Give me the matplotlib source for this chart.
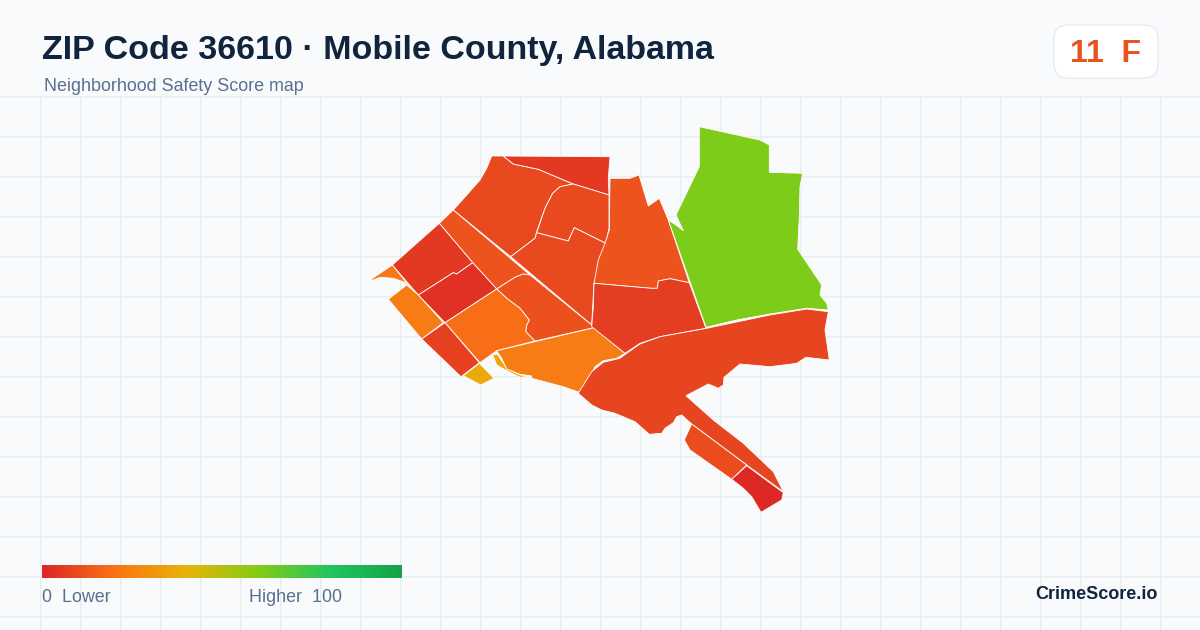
import matplotlib
matplotlib.use("Agg")
import matplotlib.pyplot as plt
from matplotlib.colors import LinearSegmentedColormap
from matplotlib.patches import FancyBboxPatch, Polygon
import numpy as np

plt.rcParams['font.family'] = ['Liberation Sans', 'DejaVu Sans']

TITLE = "ZIP Code 36610 · Mobile County, Alabama"
SUBTITLE = "Neighborhood Safety Score map"
BADGE = "11  F"
BRAND = "CrimeScore.io"
LEGEND_LOW = "0  Lower"
LEGEND_HIGH = "Higher  100"

# colour scale
scale_stops = [0.0, 0.2, 0.4, 0.6, 0.8, 1.0]
scale_colors = ["#dc2626", "#f97316", "#eab308", "#84cc16", "#22c55e", "#16a34a"]

# tract outlines (map position in picture coordinates) and their scores
north_ridge = [(491.7,156),(503.3,156),(513.3,164),(538.3,169.3),(573.3,184),(560,186.7),(552.7,193.3),(545,208.3),(536.7,231.7),(535,238.3),(510.7,256.7),(453.3,210),(468.3,193.3),(480,180),(486.7,168.3)]
diagonal_strip = [(439.3,223.3),(453.3,210),(530,275),(523.3,274),(515,277.3),(496.7,289),(472.7,262.7)]
top_band = [(503.3,156),(610,156.7),(608.3,178.3),(609,195),(573.3,184),(538.3,169.3),(513.3,164)]
upper_mid = [(573.3,184),(609,195),(609,228.3),(605.7,243.3),(574.3,227.7),(568.3,241),(536.7,232.7),(545,208.3),(552.7,193.3),(560,186.7)]
center = [(536.7,232.7),(568.3,241),(574.3,227.7),(605.7,243.3),(600,263.3),(594,283.3),(591.7,325),(510.7,256.7),(535,238.3)]
center_south = [(496.7,289),(515,277.3),(523.3,274),(530,275),(591.7,325),(594,327.7),(535,341),(525.7,331.7),(526.7,325),(529.3,320),(520,308.3),(506.7,298.3)]
west_upper = [(392.3,265),(439.3,223.3),(472.7,262.7),(456.7,274),(453.3,272.7),(436.7,283.3),(418.3,295)]
west_core = [(418.3,295),(436.7,283.3),(453.3,272.7),(456.7,274),(472.7,262.7),(496.7,289),(445,322.7)]
southwest_mid = [(445,322.7),(496.7,289),(506.7,298.3),(520,308.3),(529.3,320),(526.7,325),(525.7,331.7),(535,341),(496.7,350.7),(480,362.7)]
west_orange = [(388.3,299.3),(406.7,285),(418.3,295),(443.3,322.7),(421.7,339)]
west_lower = [(421.7,339),(445,322.7),(479.3,362.7),(461,376.7)]
west_spur = [(370,280),(392.3,265),(408.3,285),(403.3,281.7),(393.3,278.3),(380,277.3),(373.3,280)]
gold_south = [(463.3,375.7),(479.3,363.3),(494,378.3),(480.7,385)]
gold_sliver = [(492.7,355),(497.3,354),(506.7,368.3),(520,375),(531.7,376),(520,377.3),(506.7,370.7),(496.7,365)]
south_orange = [(496.7,350.7),(594,327.7),(625,353.3),(616.7,358.3),(603.3,360.7),(595,366.7),(588.3,380),(579.3,392.3),(563.3,386.7),(531.7,378.3),(531.7,376),(520,374.3),(506.7,369),(501.7,358.3)]
north_east_mid = [(610,178.3),(630,178.3),(639,175),(648.3,206),(659.3,198.3),(668.3,220),(689.3,282.7),(670,278.7),(658.3,281),(657.3,288.3),(651,288.3),(594,283.3),(598.3,260),(605,243.3),(609.3,230)]
east_mid = [(594,283.3),(651,288.3),(657.3,288.3),(658.3,281),(670,278.7),(689.3,282.7),(706,328.3),(660,336.7),(640,343.3),(625,353.3),(591.7,326.7),(593.3,306.7)]
green_east = [(699.3,126.7),(760,140),(769.3,145),(769.3,172.3),(802.7,173.3),(800,186.7),(799.3,216.7),(797.7,249.3),(821.7,285),(820,295),(826.7,303.3),(828.3,310),(806.7,308.3),(770,314),(736.7,320),(706,327.3),(668.3,220),(676,225),(683.3,230.7),(676,215),(699.3,166.7)]
waterfront = [(828.3,311.7),(825,330),(829.3,360),(806,357.3),(796.7,363.3),(770,366.7),(740,364),(724,377.3),(723.3,385),(718.3,388.3),(708.3,384),(686,395.7),(713.3,420),(743.3,443.3),(773.3,471.7),(781.7,488.3),(783.3,491.7),(746.7,465),(691.7,424),(681.7,415),(676.7,416.7),(673.3,422.7),(665,428.3),(661.7,433.3),(649.3,434.3),(635,421.7),(615,413.3),(601.7,410),(591.7,405),(578.3,393.3),(591.7,371.7),(603.3,362.3),(620,358.3),(626.7,353.3),(640,344),(660,336.7),(706.7,328.3),(770,315),(806.7,309)]
spit_mid = [(691.7,424),(746.7,465),(731.7,479.3),(690,450),(684.3,440)]
spit_tip = [(746.7,465.7),(783.3,492.7),(781.7,500),(761,512.3),(751.7,496.7),(743.3,488.3),(731.7,479.3)]

tract_shapes = [north_ridge, diagonal_strip, top_band, upper_mid, center, center_south,
                west_upper, west_core, southwest_mid, west_orange, west_lower, west_spur,
                gold_south, gold_sliver, south_orange, north_east_mid, east_mid, green_east,
                waterfront, spit_mid, spit_tip]
tract_scores = [9, 12, 5, 9, 9, 11,
                5, 3, 19, 23, 7, 21,
                37, 36, 23, 12, 6, 61,
                8, 10, 1]

W, H = 1200, 630
BG = "#f8fafc"
GRID = "#e6eef2"

fig = plt.figure(figsize=(12, 6.3), dpi=100, facecolor=BG)
ax = fig.add_axes([0, 0, 1, 1])
ax.set_xlim(0, W)
ax.set_ylim(H, 0)
ax.axis("off")

for gx in np.arange(40, W, 40):
    ax.plot([gx + 0.7, gx + 0.7], [96.7, H], color=GRID, lw=0.95, zorder=1,
            solid_capstyle="butt", snap=False)
for gy in np.arange(97, H, 40):
    ax.plot([0, W], [gy - 0.3, gy - 0.3], color=GRID, lw=0.95, zorder=1,
            solid_capstyle="butt", snap=False)

cmap = LinearSegmentedColormap.from_list("score", list(zip(scale_stops, scale_colors)))

for shape, score in zip(tract_shapes, tract_scores):
    ax.add_patch(Polygon(shape, closed=True, facecolor=cmap(score / 100), edgecolor="white",
                         lw=0.6, joinstyle="round", zorder=3))

ax.imshow(np.linspace(0, 1, 360).reshape(1, -1), cmap=cmap, extent=(42, 402, 578, 565),
          aspect="auto", zorder=3, interpolation="bilinear")
ax.set_xlim(0, W)
ax.set_ylim(H, 0)

ax.add_patch(FancyBboxPatch((1054 + 14, 25 + 14), 104 - 28, 53 - 28,
                            boxstyle="round,pad=14,rounding_size=14",
                            facecolor="white", edgecolor="#e2e8f0", lw=0.8, zorder=3))

ax.text(42, 59.5, TITLE, fontsize=24.48, fontweight="bold", color="#10243e", va="baseline", zorder=4)
ax.text(44, 91, SUBTITLE, fontsize=12.9, color="#5a7090", va="baseline", zorder=4)
ax.text(1106, 62, BADGE, fontsize=23, fontweight="bold", color="#e8541e", va="baseline", ha="center", zorder=4)
ax.text(42, 602, LEGEND_LOW, fontsize=12.9, color="#5a7090", va="baseline", zorder=4)
ax.text(249, 602, LEGEND_HIGH, fontsize=12.9, color="#5a7090", va="baseline", zorder=4)
ax.text(1158, 599, BRAND, fontsize=13, fontweight="bold", color="#10243e", va="baseline", ha="right", zorder=4)

fig.savefig("out.png", dpi=100, facecolor=BG)
